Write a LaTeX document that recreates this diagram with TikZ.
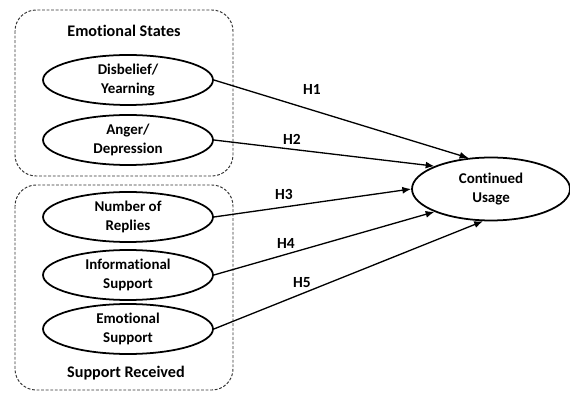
\documentclass[tikz,border=0pt]{standalone}
\usepackage{fontspec}
\setmainfont[Ligatures=NoCommon]{Carlito}
\usetikzlibrary{shapes.geometric,arrows.meta}

\begin{document}
\begin{tikzpicture}[x=0.02cm,y=-0.02cm,
  groupbox/.style={dash pattern=on 1.6pt off 1pt,line width=0.55pt,black!80,rounded corners=12pt},
  construct/.style={ellipse,draw,line width=1pt,inner sep=0pt,align=center,
    minimum width=3.4cm,minimum height=1cm,font=\bfseries\fontsize{8.5}{10.5}\selectfont},
  grouptitle/.style={font=\bfseries\fontsize{9.2}{11}\selectfont},
  hyp/.style={line width=0.75pt,-{Latex[length=5pt,width=4pt]}},
  hlabel/.style={font=\bfseries\fontsize{8.8}{10}\selectfont}]
\useasboundingbox (0,0) rectangle (570,394);
% the two groups
\draw[groupbox] (15,10) rectangle (233,176);
\draw[groupbox] (15,185) rectangle (233,390);
\node[grouptitle] (es) at (124,31) {Emotional States};
\node[grouptitle] (sr) at (126,373) {Support Received};
% constructs
\node[construct] (dis) at (128,80) {Disbelief/\\Yearning};
\node[construct] (ang) at (128,140) {Anger/\\Depression};
\node[construct] (rep) at (128,217) {Number of\\Replies};
\node[construct] (inf) at (128,275) {Informational\\Support};
\node[construct] (emo) at (128,329) {Emotional\\Support};
\node[construct,minimum width=3.16cm,minimum height=1.26cm] (cu) at (491,189) {Continued\\Usage};
% hypotheses
\foreach \s/\a in {dis/126,ang/158,rep/180,inf/202,emo/256}
\draw[hyp] (\s.east) -- (cu.\a);
\foreach \n/\x/\y in {1/312/89,2/292/139,3/284/194,4/286/243,5/302/283}
\node[hlabel] (h\n) at (\x,\y) {H\n};
\end{tikzpicture}
\end{document}
